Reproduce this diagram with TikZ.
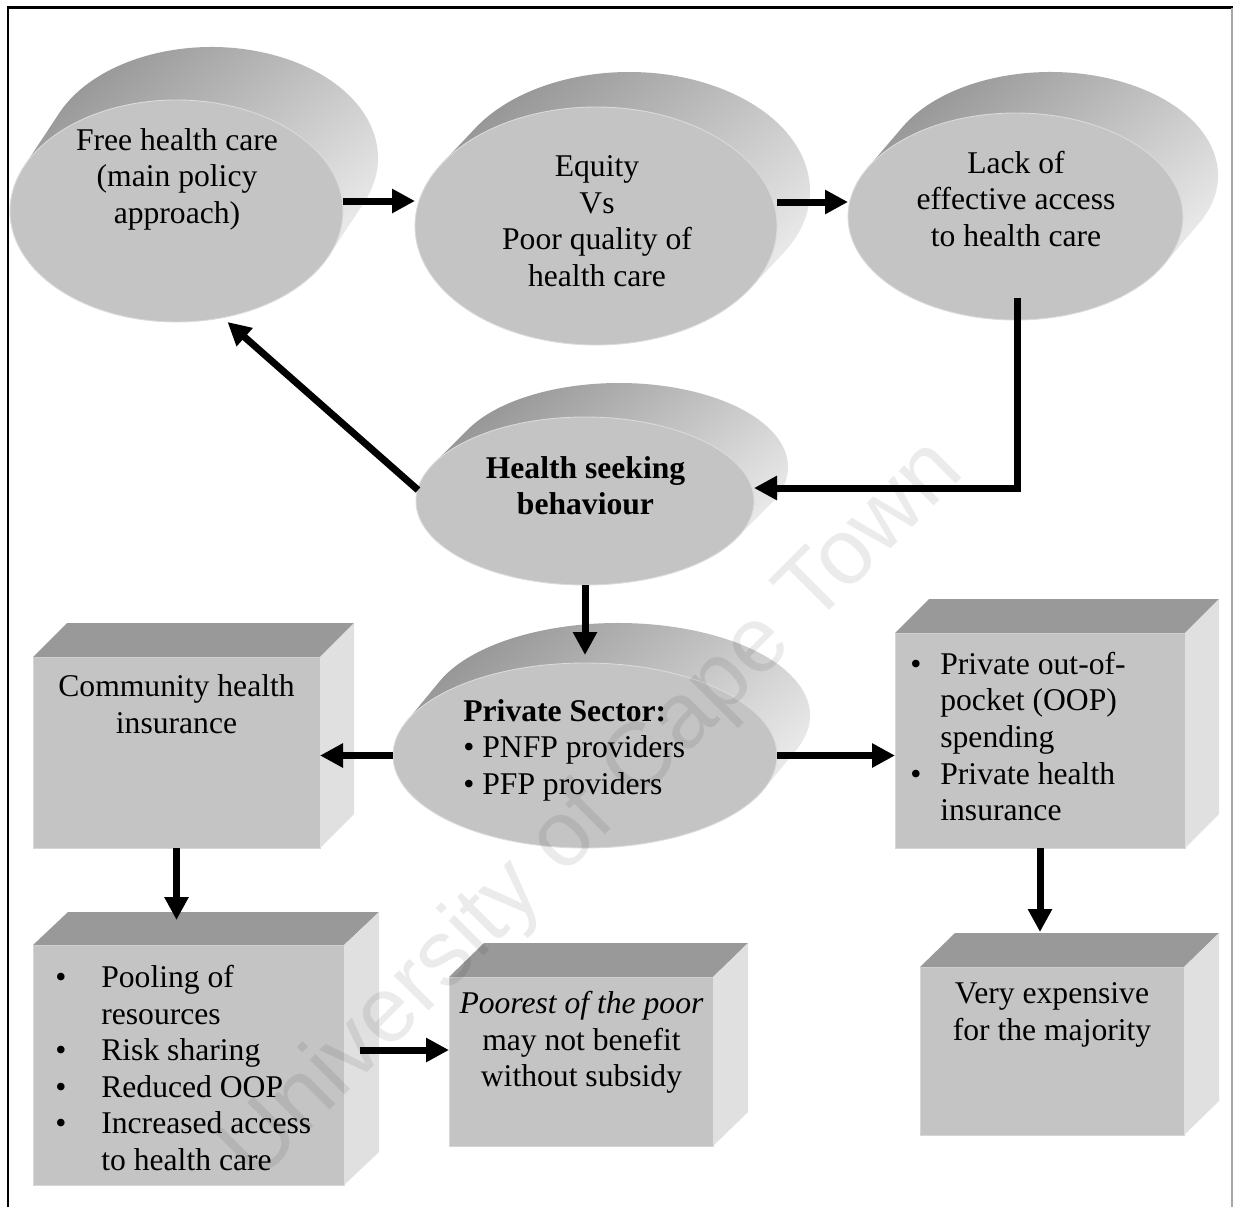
\documentclass[tikz,border=0pt]{standalone}
\usepackage{fontspec}
\setmainfont{Liberation Serif}
\newfontfamily\wmfont{Liberation Sans}
\usetikzlibrary{shapes.geometric,arrows.meta,calc}

% one drawing unit
\newcommand\pxu{0.02cm}

\tikzset{
  diskface/.style={ellipse, fill=black!23, draw=black!14, line width=0.5pt, inner sep=0pt, outer sep=0pt},
  boxface/.style={rectangle, fill=black!23, draw=black!16, line width=0.5pt, inner sep=0pt, outer sep=0pt},
  boxtop/.style={fill=black!40},
  boxside/.style={fill=black!12},
  rim/.style={top color=black!42, bottom color=black!9, shading angle=40},
  txt/.style={font=\fontsize{18pt}{20.8pt}\selectfont, inner sep=0pt, align=center},
  arr/.style={line width=0.14cm, -{Triangle[length=0.46cm,width=0.46cm]}},
}

% extruded disk: name, cx, cy, rx, ry, dx, dy
\newcommand\diskat[7]{%
  \pgfmathsetmacro\dka{atan2(-(#5)*(#6),(#4)*(#7))}%
  \pgfmathsetmacro\dkb{\dka+180}%
  \shade[rim] ($(#2,#3)+({(#4)*cos(\dka)},{(#5)*sin(\dka)})$) -- ++(#6,#7)
     arc[start angle=\dka, end angle=\dkb, x radius=#4, y radius=#5]
     -- ($(#2,#3)+({(#4)*cos(\dkb)},{(#5)*sin(\dkb)})$) -- cycle;
  \node[diskface, minimum width={2*(#4)*\pxu}, minimum height={2*(#5)*\pxu}] (#1) at (#2,#3) {};
}

% block with top and side faces: name, x1, y1, x2, y2, dx, dy
\newcommand\blockat[7]{%
  \node[boxface, minimum width={((#4)-(#2))*\pxu}, minimum height={((#5)-(#3))*\pxu}] (#1) at ({((#2)+(#4))/2},{((#3)+(#5))/2}) {};
  \fill[boxtop] (#1.north west) -- ++(#6,#7) -- ($(#1.north east)+(#6,#7)$) -- (#1.north east) -- cycle;
  \fill[boxside] (#1.north east) -- ++(#6,#7) -- ($(#1.south east)+(#6,#7)$) -- (#1.south east) -- cycle;
}

\begin{document}
\begin{tikzpicture}[x=0.02cm, y=-0.02cm]
\useasboundingbox (0,0) rectangle (1233,1207);
\fill[white] (0,0) rectangle (1233,1207);

% frame
\draw[line width=0.06cm] (8,1207) -- (8,7.5) -- (1233,7.5);
\draw[black!35, line width=0.03cm] (1232,7.5) -- (1232,1207);

% disks
\diskat{free}{176.5}{211}{166.5}{111}{35}{-53}
\diskat{eq}{596}{226}{181}{119}{33}{-35}
\diskat{lack}{1015.5}{216.5}{167.5}{103.5}{35}{-41}
\diskat{hsb}{585}{501}{169}{84}{34}{-34}
\diskat{priv}{585}{755.5}{192}{92.5}{33}{-40}

% blocks
\blockat{comm}{33}{657}{320}{848}{34}{-34}
\blockat{pool}{33}{945}{344}{1185}{35}{-33}
\blockat{poor}{449}{977}{713}{1146}{35}{-34}
\blockat{oop}{895}{633}{1185}{848}{34}{-34}
\blockat{exp}{920}{967}{1184}{1135}{35}{-34}

% texts
\node[txt] (t-free) at (177,179) {Free health care\\(main policy\\approach)};
\node[txt] (t-eq) at (597,221) {Equity\\Vs\\Poor quality of\\health care};
\node[txt] (t-lack) at (1016,199) {Lack of\\effective access\\to health care};
\node[txt, font=\fontsize{18pt}{20.8pt}\selectfont\bfseries] (t-hsb) at (585.5,485.5) {Health seeking\\behaviour};
\node[txt, align=left, anchor=west] (t-priv) at (463,750) {\textbf{Private Sector:}\\\textbullet\ PNFP providers\\\textbullet\ PFP providers};
\node[txt] (t-comm) at (176.5,704) {Community health\\insurance};
\node[txt, align=left, anchor=west] (t-oop) at (910,736.5) {\makebox[0.6cm][l]{\textbullet}Private out-of-\\\hspace*{0.6cm}pocket (OOP)\\\hspace*{0.6cm}spending\\\makebox[0.6cm][l]{\textbullet}Private health\\\hspace*{0.6cm}insurance};
\node[txt, align=left, anchor=west] (t-pool) at (55,1068) {\makebox[0.92cm][l]{\textbullet}Pooling of\\\hspace*{0.92cm}resources\\\makebox[0.92cm][l]{\textbullet}Risk sharing\\\makebox[0.92cm][l]{\textbullet}Reduced OOP\\\makebox[0.92cm][l]{\textbullet}Increased access\\\hspace*{0.92cm}to health care};
\node[txt] (t-poor) at (581.5,1042.5) {\textit{Poorest of the poor}\\may not benefit\\without subsidy};
\node[txt] (t-exp) at (1052,1015) {Very expensive\\for the majority};

% connectors
\coordinate (a1) at ($(free.east)+(0,-10)$);
\draw[arr] (a1) -- (a1 -| eq.west);
\coordinate (a2) at ($(eq.east)+(0,-24)$);
\draw[arr] (a2) -- (a2 -| lack.west);
\coordinate (a3) at ($(lack.center)+(1.5,81)$);
\draw[arr] (a3) |- ($(hsb.east)+(0,-13)$);
\draw[arr] ($(hsb.west)+(2,-11)$) -- ($(free.south)+(51,0)$);
\draw[arr] (hsb.south) -- ($(priv.north)+(0,-8)$);
\draw[arr] (priv.west) -- (priv.west -| comm.east);
\draw[arr] (priv.east) -- (priv.east -| oop.west);
\coordinate (a8) at ($(pool.north)+(0,-25)$);
\draw[arr] (comm.south) -- (comm.south |- a8);
\coordinate (a9) at ($(pool.east)+(16,-15)$);
\draw[arr] (a9) -- (a9 -| poor.west);
\coordinate (a10) at ($(exp.north)+(0,-35)$);
\draw[arr] (oop.south) -- (oop.south |- a10);

% watermark
\node[rotate=45, font=\wmfont\fontsize{53pt}{58pt}\selectfont, text=black, text opacity=0.08, inner sep=0pt] (wm) at (594,812) {University of Cape Town};
\end{tikzpicture}
\end{document}
